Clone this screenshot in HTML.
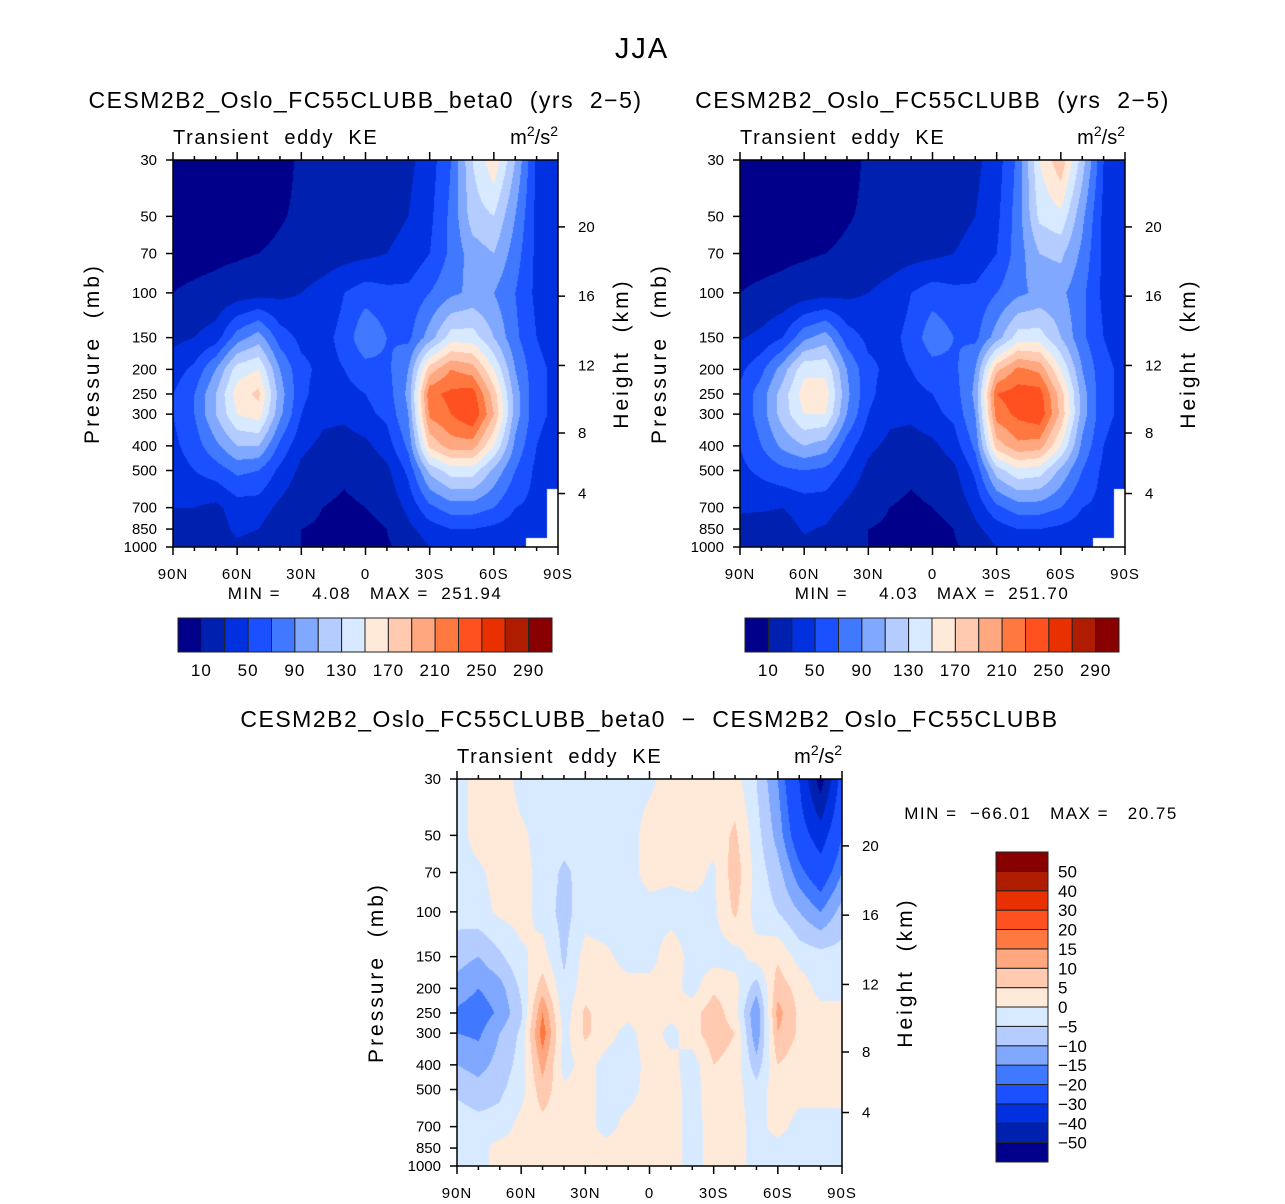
<!DOCTYPE html>
<html><head><meta charset="utf-8"><style>
body{margin:0;background:#fff;font-family:"Liberation Sans",sans-serif;}
#root{position:relative;width:1285px;height:1204px;overflow:hidden;background:#fff}
canvas{position:absolute}
</style></head><body>
<div id="root">
<svg id="ov" width="1285" height="1204" style="position:absolute;left:0;top:0"></svg>
</div>
<script>
const levels=[30,50,70,100,150,200,250,300,400,500,700,850,1000];
const lats=["90N","80N","70N","60N","50N","40N","30N","20N","10N","0","10S","20S","30S","40S","50S","60S","70S","80S","90S"];
const xTickLabels=["90N","60N","30N","0","30S","60S","90S"];
const yTickLabels=[30,50,70,100,150,200,250,300,400,500,700,850,1000];
const hTickLabels=[4,8,12,16,20];
const hTickPressures=[616,356,193,103,55];
const keBounds=[10,30,50,70,90,110,130,150,170,190,210,230,250,270,290];
const keLabels=[10,50,90,130,170,210,250,290];
const difBounds=[-50,-40,-30,-20,-15,-10,-5,0,5,10,15,20,30,40,50];
const colors=["#00008a","#0020b0","#0030e0","#1a50ff","#4078ff","#80a8ff","#b4ccff","#d8eaff","#ffe9d8","#ffcab0","#ffa880","#ff7840","#ff5020","#e83000","#b01c00","#880000"];
const ke1=[
[4,4,4,4,4,6,12,15,18,20,22,25,40,70,130,165,110,45,35],
[4,4,4,5,6,9,12,15,18,20,25,30,45,75,120,130,90,45,35],
[6,6,7,8,10,12,15,18,22,25,30,35,50,75,100,110,80,45,40],
[10,12,14,18,22,25,30,38,50,60,55,55,70,85,95,90,70,45,40],
[25,30,40,80,100,60,45,45,55,90,70,65,100,140,140,110,75,50,40],
[40,55,90,140,150,90,55,45,50,60,65,90,180,210,200,150,90,55,45],
[50,70,110,160,175,100,55,40,45,50,60,95,225,235,240,180,100,55,45],
[50,70,110,150,160,95,50,35,35,45,55,90,215,230,250,190,100,55,45],
[45,60,85,110,110,65,35,25,20,25,40,75,175,200,200,150,85,50,40],
[40,50,60,75,70,45,25,15,12,15,25,55,115,140,140,105,70,45,40],
[30,30,25,40,40,25,15,10,8,10,15,35,65,80,80,70,50,45,null],
[25,20,20,35,30,15,10,8,6,5,10,25,40,50,50,45,40,40,null],
[20,20,20,25,20,15,10,8,6,4,8,15,30,35,35,30,30,null,null]];
const ke2=[
[4,4,4,4,4,6,12,15,18,20,22,25,40,75,150,185,120,50,35],
[4,4,4,5,6,9,12,15,18,20,25,30,45,80,135,145,95,45,35],
[6,6,7,8,10,12,15,18,22,25,30,35,50,80,110,115,85,45,40],
[10,12,14,18,22,25,30,38,50,60,55,55,70,85,95,95,75,45,40],
[28,35,50,85,100,60,45,45,55,85,70,65,100,140,140,110,75,50,40],
[45,65,100,145,145,90,55,45,50,60,65,90,185,215,205,150,90,55,45],
[55,80,120,160,160,95,55,40,45,50,60,95,230,240,240,180,100,55,45],
[55,80,120,150,150,90,50,35,35,45,55,90,220,235,245,185,100,55,45],
[50,70,95,110,100,60,35,25,20,25,40,75,180,205,200,150,85,50,40],
[45,55,65,70,65,45,25,15,12,15,25,55,120,145,140,105,70,45,40],
[32,32,30,38,38,25,15,10,8,10,15,35,65,80,80,70,50,45,null],
[25,22,22,32,28,15,10,8,6,5,10,25,40,50,50,45,40,40,null],
[20,20,20,25,20,15,10,8,6,4,8,15,30,35,35,30,30,null,null]];
const dif=[
[-2,2,3,-2,-2,-2,-2,-2,-2,-1,2,2,2,2,-5,-15,-30,-55,-25],
[-2,2,3,1,-2,-3,-2,-2,-2,2,2,2,2,6,-3,-12,-25,-35,-20],
[-2,-1,2,2,-2,-6,-3,-2,-2,2,1,2,-1,8,-2,-8,-18,-25,-15],
[-3,-2,1,2,-2,-7,-2,-3,-3,-2,-2,-2,-1,6,-2,-5,-10,-15,-8],
[-8,-10,-6,-1,2,-6,2,1,-2,-2,3,-2,-2,-2,2,4,-2,-3,-3],
[-12,-15,-12,-4,8,-4,3,2,2,2,2,-2,4,2,-8,8,3,-2,-2],
[-16,-18,-14,-6,15,-3,6,2,2,3,2,3,8,2,-15,12,4,2,2],
[-15,-16,-10,-4,18,-2,6,2,-2,3,-2,3,8,5,-14,10,4,2,2],
[-10,-12,-8,-3,12,-2,2,-2,-3,2,2,-3,5,3,-8,5,2,2,2],
[-6,-8,-6,-2,8,1,2,-2,-2,2,2,-2,3,2,-3,3,2,2,2],
[-2,-3,-3,2,3,2,2,-2,2,2,2,-2,2,2,-2,2,-2,-2,-2],
[-2,-2,2,2,2,2,2,2,2,2,2,-2,2,2,-2,-2,-2,-2,-2],
[-2,-2,2,2,2,2,2,2,2,2,2,-2,2,2,-2,-2,-2,-2,-2]];

const root=document.getElementById('root'),ov=document.getElementById('ov');
const NS="http://www.w3.org/2000/svg";
const L30=Math.log(1000/30);
function yOf(p,top,h){return top+h-(Math.log(1000/p)/L30)*h;}
function hex(c){return [parseInt(c.slice(1,3),16),parseInt(c.slice(3,5),16),parseInt(c.slice(5,7),16)];}
const rgb=colors.map(hex);
function cidx(v,b){let i=0;while(i<b.length&&v>=b[i])i++;return i;}
function txt(x,y,s,size,anchor,name,extra){
  const t=document.createElementNS(NS,'text');
  t.setAttribute('x',x);t.setAttribute('y',y);t.setAttribute('font-size',size);
  t.setAttribute('text-anchor',anchor||'start');t.setAttribute('font-family','Liberation Sans, sans-serif');
  t.setAttribute('style','white-space:pre');
  if(extra)for(const k in extra)t.setAttribute(k,extra[k]);
  
  
  t.textContent=s;ov.appendChild(t);return t;}
function line(x1,y1,x2,y2,name,w){
  const l=document.createElementNS(NS,'line');
  l.setAttribute('x1',x1);l.setAttribute('y1',y1);l.setAttribute('x2',x2);l.setAttribute('y2',y2);
  l.setAttribute('stroke','#000');l.setAttribute('stroke-width',w||1.5);
  
  
  ov.appendChild(l);}
txt(642,58,'JJA',29,'middle','figure-title',{'letter-spacing':'2'});
function panel(L,T,W,H,grid,bounds,name,title){
  const cv=document.createElement('canvas');cv.width=W;cv.height=H;
  cv.style.left=L+'px';cv.style.top=T+'px';
  
  
  root.insertBefore(cv,ov);
  const ctx=cv.getContext('2d'),img=ctx.createImageData(W,H),d=img.data;
  const lnl=levels.map(p=>Math.log(1000/p));
  const n=lats.length;
  for(let py=0;py<H;py++){
    const lv=(H-py-0.5)/H*L30;
    let j=0;while(j<levels.length-2&&lnl[j+1]>lv)j++;
    let ty=(lnl[j]-lv)/(lnl[j]-lnl[j+1]);ty=Math.max(0,Math.min(1,ty));
    for(let px=0;px<W;px++){
      const fx=(px+0.5)/W*(n-1);let i=Math.min(n-2,Math.floor(fx));const tx=fx-i;
      const pts=[[grid[j][i],(1-tx)*(1-ty)],[grid[j][i+1],tx*(1-ty)],[grid[j+1][i],(1-tx)*ty],[grid[j+1][i+1],tx*ty]];
      const nr=(ty<0.5?j:j+1),nc=(tx<0.5?i:i+1);
      const o=(py*W+px)*4;
      if(grid[nr][nc]===null){d[o]=d[o+1]=d[o+2]=255;d[o+3]=255;continue;}
      let s=0,ws=0;for(const [v,w] of pts){if(v!==null){s+=v*w;ws+=w;}}
      const c=rgb[cidx(s/ws,bounds)];
      d[o]=c[0];d[o+1]=c[1];d[o+2]=c[2];d[o+3]=255;}}
  ctx.putImageData(img,0,0);
  const r=document.createElementNS(NS,'rect');
  r.setAttribute('x',L);r.setAttribute('y',T);r.setAttribute('width',W);r.setAttribute('height',H);
  r.setAttribute('fill','none');r.setAttribute('stroke','#000');r.setAttribute('stroke-width',1.5);
  
  
  ov.appendChild(r);
  for(let k=0;k<19;k++){const x=L+k*W/18;const major=k%3===0;
    line(x,T+H,x,T+H+(major?8:4),name+'-x-tick');line(x,T,x,T-(major?8:4),name+'-top-tick');}
  xTickLabels.forEach((s,k)=>txt(L+k*W/6,T+H+32,s,15,'middle',name+'-x-tick-label',{'letter-spacing':'1'}));
  yTickLabels.forEach(p=>{const y=yOf(p,T,H);line(L,y,L-7,y,name+'-y-tick');txt(L-16,y+5,String(p),15,'end',name+'-y-tick-label');});
  hTickLabels.forEach((h,k)=>{const y=yOf(hTickPressures[k],T,H);line(L+W,y,L+W+7,y,name+'-height-tick');txt(L+W+20,y+5,String(h),15,'start',name+'-height-tick-label');});
  txt(L-74,T+H/2,'Pressure  (mb)',21,'middle',name+'-y-axis-title',{transform:`rotate(-90 ${L-74} ${T+H/2})`,'letter-spacing':'3'});
  txt(L+W+70,T+H/2,'Height  (km)',21,'middle',name+'-height-axis-title',{transform:`rotate(-90 ${L+W+70} ${T+H/2})`,'letter-spacing':'3'});
  txt(L,T-16,'Transient  eddy  KE',20,'start',name+'-variable-label',{'letter-spacing':'1.6'});
  const u=txt(L+W,T-16,'',20,'end',name+'-units-label');
  u.innerHTML='m<tspan dy="-8" font-size="14">2</tspan><tspan dy="8">/s</tspan><tspan dy="-8" font-size="14">2</tspan>';
  txt(L+W/2,T-52,title,23,'middle',name+'-title',{'letter-spacing':'1.5'});
}
function hbar(L,T,W,H,name){
  const bw=W/16;
  colors.forEach((c,k)=>{const r=document.createElementNS(NS,'rect');
    r.setAttribute('x',L+k*bw);r.setAttribute('y',T);r.setAttribute('width',bw);r.setAttribute('height',H);
    r.setAttribute('fill',c);r.setAttribute('stroke','#222');r.setAttribute('stroke-width',1);
    
    
    ov.appendChild(r);});
  keLabels.forEach(v=>{const k=keBounds.indexOf(v)+1;txt(L+k*bw,T+H+24,String(v),17,'middle',name+'-label',{'letter-spacing':'1'});});
}
panel(173,160,385,387,ke1,keBounds,'panel-beta0','CESM2B2_Oslo_FC55CLUBB_beta0  (yrs  2−5)');
panel(740,160,385,387,ke2,keBounds,'panel-control','CESM2B2_Oslo_FC55CLUBB  (yrs  2−5)');
panel(457,779,385,387,dif,difBounds,'panel-difference','CESM2B2_Oslo_FC55CLUBB_beta0  −  CESM2B2_Oslo_FC55CLUBB');
txt(365,599,'MIN =     4.08   MAX =  251.94',17,'middle','beta0-min-max',{'letter-spacing':'1.5'});
txt(932,599,'MIN =     4.03   MAX =  251.70',17,'middle','control-min-max',{'letter-spacing':'1.5'});
txt(1041,819,'MIN =  −66.01   MAX =   20.75',17,'middle','difference-min-max',{'letter-spacing':'1.5'});
hbar(178,618,374,34,'beta0-colorbar');
hbar(745,618,374,34,'control-colorbar');
(function(){const L=996,T=852,W=52,H=310,bh=H/16;
  colors.forEach((c,k)=>{const r=document.createElementNS(NS,'rect');
    r.setAttribute('x',L);r.setAttribute('y',T+H-(k+1)*bh);r.setAttribute('width',W);r.setAttribute('height',bh);
    r.setAttribute('fill',c);r.setAttribute('stroke','#222');r.setAttribute('stroke-width',1);
    
    
    ov.appendChild(r);});
  difBounds.forEach((v,k)=>{const y=T+H-(k+1)*bh;txt(1058,y+6,String(v).replace('-','−'),17,'start','difference-colorbar-label');});
})();
</script>
</body></html>
